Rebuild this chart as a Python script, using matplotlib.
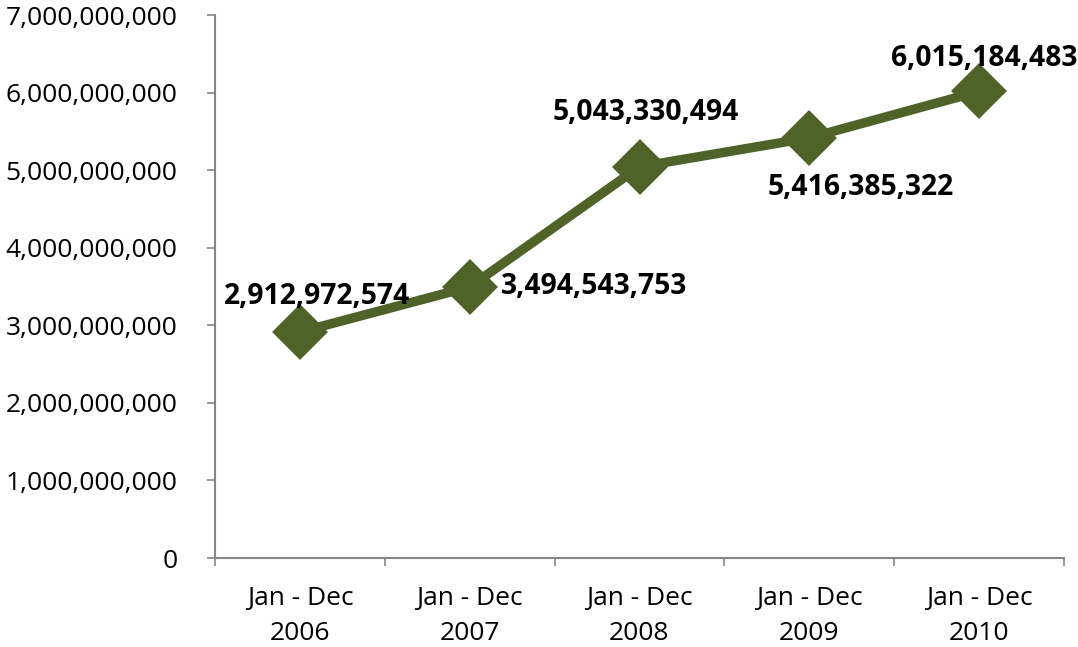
import matplotlib
matplotlib.use("Agg")
import matplotlib.pyplot as plt
from matplotlib.ticker import FuncFormatter, FixedLocator

categories = ["Jan - Dec\n2006", "Jan - Dec\n2007", "Jan - Dec\n2008", "Jan - Dec\n2009", "Jan - Dec\n2010"]
values = [2912972574, 3494543753, 5043330494, 5416385322, 6015184483]
y_ticks = [0, 1e9, 2e9, 3e9, 4e9, 5e9, 6e9, 7e9]

# label offsets in pixels (dx, dy) and alignment
offsets = [(17, 36, "center"), (31, 0, "left"), (6, 54, "center"), (51, -50, "center"), (5, 33, "center")]

FONT = "Open Sans"
color = "#4F6228"
axis_color = "#868686"

fig = plt.figure(figsize=(10.78, 6.47), dpi=100)
ax = fig.add_axes([215/1078, 89/647, (1064-215)/1078, (558-15)/647])

x = list(range(len(values)))
ax.plot(x, values, color=color, lw=6.8, solid_joinstyle="round", zorder=3,
        marker="D", markersize=25, markerfacecolor=color, markeredgecolor=color,
        markeredgewidth=3, clip_on=False)

ax.set_xlim(-0.5, len(values) - 0.5)
ax.set_ylim(0, 7e9)
ax.yaxis.set_major_locator(FixedLocator(y_ticks))
ax.yaxis.set_major_formatter(FuncFormatter(lambda v, p: f"{int(v):,}"))
ax.set_xticks(x)
ax.set_xticklabels(categories)
ax.set_xticks([i - 0.5 for i in range(len(values) + 1)], minor=True)
ax.tick_params(axis="x", which="major", length=0, pad=20.5, labelsize=19)
ax.tick_params(axis="x", which="minor", length=6, width=1.2, color=axis_color, direction="out")
ax.tick_params(axis="y", length=6, width=1.2, color=axis_color, direction="out", pad=21, labelsize=19)
for lab in ax.get_xticklabels() + ax.get_yticklabels():
    lab.set_fontfamily(FONT)
for lab in ax.get_xticklabels():
    lab.set_linespacing(1.5)

for s in ["top", "right"]:
    ax.spines[s].set_visible(False)
for s in ["left", "bottom"]:
    ax.spines[s].set_color(axis_color)
    ax.spines[s].set_linewidth(1.5)

for xi, v, (dx, dy, ha) in zip(x, values, offsets):
    ax.annotate(f"{v:,}", (xi, v), xytext=(dx * 0.72, dy * 0.72), textcoords="offset points",
                ha=ha, va="center", fontsize=20.3, fontweight="bold", fontfamily=FONT,
                color="black", zorder=5, annotation_clip=False)

fig.savefig("out.png", dpi=100)
